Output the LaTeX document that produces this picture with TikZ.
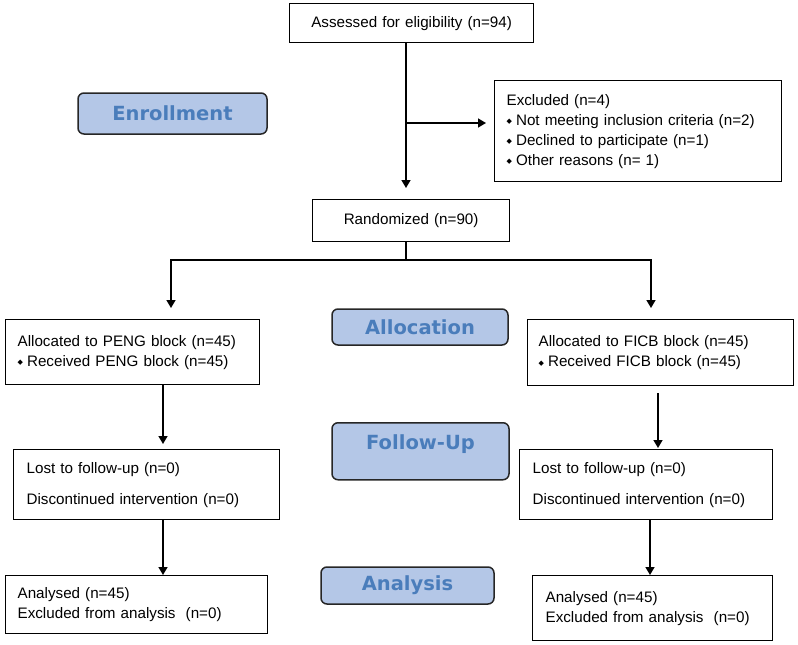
\documentclass[tikz,border=0pt]{standalone}
\usepackage{fontspec}
\setmainfont{Liberation Sans}
\newfontfamily\labfont{DejaVu Sans}
\newfontfamily\symfont{DejaVu Sans}
\usetikzlibrary{arrows.meta,calc}
\definecolor{labfill}{RGB}{180,199,231}
\definecolor{labtext}{RGB}{74,125,187}
\newcommand{\bul}{{\symfont\fontsize{7}{7}\selectfont\raisebox{1.5pt}{◆}}\hspace{4pt}}
\begin{document}
\begin{tikzpicture}[x=1pt,y=-1pt,
  box/.style={draw, line width=1.3pt, anchor=north west, align=left, inner ysep=0pt, font=\fontsize{15.2}{20}\selectfont},
  lab/.style={draw=black!85, line width=1.5pt, rounded corners=6pt, fill=labfill, text=labtext, font=\labfont\bfseries\fontsize{19.5}{22}\selectfont, inner sep=0pt},
  arr/.style={line width=1.5pt, -{Triangle[length=8pt,width=9pt]}},
  ln/.style={line width=1.5pt}]
\useasboundingbox (0,0) rectangle (798,645);

% boxes
\node[box, minimum width=244pt, minimum height=39pt, align=center, text width=220pt, inner xsep=12pt] (assess) at (289,3) {Assessed for eligibility (n=94)};
\node[box, minimum width=287pt, minimum height=101pt, text width=263pt, inner xsep=12pt] (excl) at (494,80) {Excluded (n=4)\\ \bul Not meeting inclusion criteria (n=2)\\ \bul Declined to participate (n=1)\\ \bul Other reasons (n= 1)};
\node[box, minimum width=197pt, minimum height=42pt, align=center, text width=173pt, inner xsep=12pt] (rand) at (312,199) {Randomized (n=90)};

\node[box, minimum width=254pt, minimum height=65pt, text width=230pt, inner xsep=12pt] (allocL) at (5,319) {Allocated to PENG block (n=45)\\ \bul Received PENG block (n=45)};
\node[box, minimum width=266pt, minimum height=66pt, text width=244pt, inner xsep=11pt] (allocR) at (527,319) {Allocated to FICB block (n=45)\\ \bul Received FICB block (n=45)};

\node[box, minimum width=266pt, minimum height=70pt, text width=240pt, inner xsep=13pt] (fuL) at (13,449) {Lost to follow-up (n=0)\\[11pt] Discontinued intervention (n=0)};
\node[box, minimum width=253pt, minimum height=70pt, text width=227pt, inner xsep=13pt] (fuR) at (519,449) {Lost to follow-up (n=0)\\[11pt] Discontinued intervention (n=0)};

\node[box, minimum width=262pt, minimum height=58pt, text width=238pt, inner xsep=12pt] (anL) at (5,575) {Analysed (n=45)\\ Excluded from analysis\ \ (n=0)};
\node[box, minimum width=240pt, minimum height=65pt, text width=214pt, inner xsep=13pt] (anR) at (532,575) {Analysed (n=45)\\ Excluded from analysis\ \ (n=0)};

% stage labels
\node[lab, minimum width=189pt, minimum height=41pt] (enr) at (172.5,113.5) {Enrollment};
\node[lab, minimum width=176pt, minimum height=36pt] (alloc) at (420,327) {Allocation};
\node[lab, minimum width=177pt, text height=27pt, text depth=30pt, anchor=north] (fu) at (420.5,422) {Follow-Up};
\node[lab, minimum width=173pt, minimum height=37pt] (an) at (407.5,585.5) {Analysis};

% connectors
\coordinate (br) at (406,123);
\coordinate (split) at (406,260);
\coordinate (sl) at (171,260);
\coordinate (sr) at (651,260);
\coordinate (xl) at (163,0);
\coordinate (xr1) at (658,0);
\coordinate (xr2) at (650,0);

\draw[arr, shorten >=11pt] (assess.south -| br) -- (rand.north -| br);
\draw[arr, shorten >=8pt] (br) -- (excl.west |- br);
\draw[ln] (rand.south -| split) -- (split);
\draw[arr, shorten >=11pt] (split) -| (sl |- allocL.north);
\draw[arr, shorten >=11pt] (split) -| (sr |- allocR.north);
\draw[arr, shorten >=5pt] (allocL.south -| xl) -- (fuL.north -| xl);
\draw[arr, shorten <=7pt, shorten >=1pt] (allocR.south -| xr1) -- (fuR.north -| xr1);
\draw[arr] (fuL.south -| xl) -- (anL.north -| xl);
\draw[arr] (fuR.south -| xr2) -- (anR.north -| xr2);
\end{tikzpicture}
\end{document}
